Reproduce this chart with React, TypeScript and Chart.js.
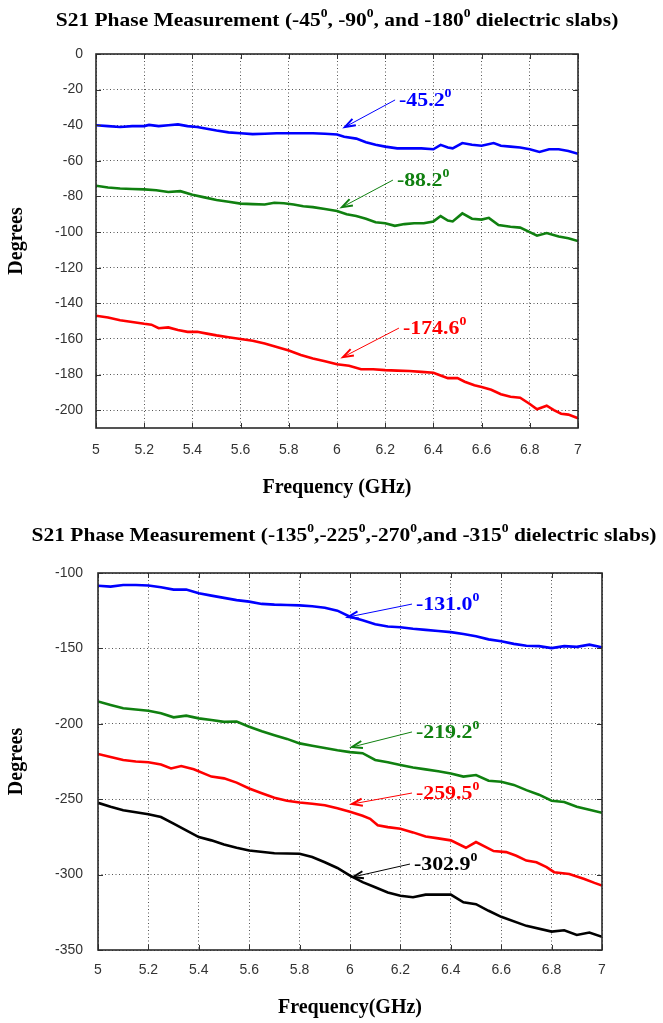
import React, { useEffect, useRef } from 'react';
import { Chart, registerables } from 'chart.js';

Chart.register(...registerables);

// ---------- Chart 1 data ----------
const c1BlueFreq = [5.00, 5.05, 5.10, 5.15, 5.20, 5.22, 5.26, 5.30, 5.34, 5.38, 5.42, 5.46, 5.50, 5.55, 5.60, 5.65, 5.70, 5.75, 5.80, 5.85, 5.90, 5.95, 6.00, 6.03, 6.08, 6.12, 6.16, 6.20, 6.25, 6.30, 6.35, 6.40, 6.43, 6.46, 6.48, 6.52, 6.56, 6.60, 6.65, 6.68, 6.72, 6.76, 6.80, 6.84, 6.88, 6.92, 6.96, 7.00];
const c1BlueVals = [-40.0, -40.5, -41.0, -40.5, -40.5, -39.8, -40.5, -40.0, -39.5, -40.5, -41.0, -42.0, -43.0, -44.0, -44.5, -45.0, -44.8, -44.5, -44.5, -44.5, -44.5, -44.8, -45.2, -46.5, -47.5, -49.5, -51.0, -52.0, -53.0, -53.0, -53.0, -53.5, -51.0, -52.5, -53.0, -50.0, -51.0, -51.5, -50.0, -51.5, -52.0, -52.5, -53.5, -55.0, -53.5, -53.5, -54.5, -56.0];

const c1GreenFreq = [5.00, 5.05, 5.10, 5.15, 5.20, 5.25, 5.30, 5.35, 5.40, 5.45, 5.50, 5.55, 5.60, 5.65, 5.70, 5.74, 5.78, 5.82, 5.86, 5.90, 5.95, 6.00, 6.04, 6.08, 6.12, 6.16, 6.20, 6.24, 6.28, 6.32, 6.36, 6.40, 6.43, 6.46, 6.48, 6.52, 6.56, 6.60, 6.63, 6.67, 6.72, 6.76, 6.80, 6.83, 6.87, 6.92, 6.96, 7.00];
const c1GreenVals = [-74.0, -75.0, -75.5, -75.8, -76.0, -76.5, -77.5, -77.0, -79.0, -80.5, -82.0, -83.0, -84.0, -84.3, -84.5, -83.5, -83.8, -84.5, -85.5, -86.0, -87.0, -88.2, -90.0, -91.0, -92.5, -94.5, -95.0, -96.5, -95.5, -95.0, -95.0, -94.0, -91.0, -93.5, -94.0, -89.5, -92.5, -93.0, -92.0, -96.0, -97.0, -97.5, -100.0, -102.0, -100.5, -102.5, -103.5, -105.0];

const c1RedFreq = [5.00, 5.05, 5.10, 5.15, 5.20, 5.23, 5.26, 5.30, 5.34, 5.38, 5.42, 5.46, 5.50, 5.55, 5.60, 5.65, 5.70, 5.75, 5.80, 5.85, 5.90, 5.95, 6.00, 6.05, 6.10, 6.15, 6.20, 6.25, 6.30, 6.35, 6.40, 6.43, 6.46, 6.50, 6.53, 6.57, 6.60, 6.64, 6.68, 6.72, 6.76, 6.80, 6.83, 6.87, 6.90, 6.93, 6.96, 7.00];
const c1RedVals = [-147.0, -148.0, -149.5, -150.5, -151.5, -152.0, -154.0, -153.5, -155.0, -156.0, -156.0, -157.0, -158.0, -159.0, -160.0, -161.0, -162.5, -164.5, -166.5, -169.0, -171.0, -172.5, -174.2, -175.0, -177.0, -177.0, -177.5, -177.8, -178.0, -178.5, -179.0, -180.5, -182.0, -182.0, -184.0, -186.0, -187.0, -188.5, -191.0, -192.5, -193.0, -196.5, -199.5, -197.5, -200.0, -202.0, -202.5, -204.5];

const c1YTicks = [0, -20, -40, -60, -80, -100, -120, -140, -160, -180, -200];
const c1YMin = -210;
const c1YMax = 0;

const c1AnnotLabels = ['-45.2', '-88.2', '-174.6'];
const c1AnnotTipX = [6.033, 6.021, 6.025];
const c1AnnotTipY = [-41.0, -86.0, -170.2];
const c1AnnotTailX = [6.241, 6.232, 6.257];
const c1AnnotTailY = [-25.8, -70.8, -153.9];

const c1Title = ['S21 Phase Measurement (-45', '0', ', -90', '0', ', and -180', '0', ' dielectric slabs)'];
const c1XTitle = 'Frequency (GHz)';

// ---------- Chart 2 data ----------
const c2BlueFreq = [5.00, 5.05, 5.10, 5.15, 5.20, 5.25, 5.30, 5.35, 5.40, 5.45, 5.50, 5.55, 5.60, 5.65, 5.70, 5.75, 5.80, 5.85, 5.90, 5.95, 6.00, 6.05, 6.10, 6.15, 6.20, 6.25, 6.30, 6.35, 6.40, 6.45, 6.50, 6.55, 6.60, 6.65, 6.70, 6.75, 6.80, 6.85, 6.90, 6.95, 7.00];
const c2BlueVals = [-108.5, -109.0, -108.0, -108.0, -108.3, -109.5, -111.0, -111.0, -113.5, -115.0, -116.5, -118.0, -119.0, -120.5, -121.0, -121.2, -121.5, -122.0, -123.0, -125.0, -129.0, -131.4, -134.0, -135.5, -136.0, -137.0, -137.7, -138.5, -139.2, -140.5, -142.0, -144.0, -145.3, -147.0, -148.2, -148.5, -149.8, -148.5, -149.0, -147.5, -149.3];

const c2GreenFreq = [5.00, 5.05, 5.10, 5.15, 5.20, 5.25, 5.30, 5.35, 5.40, 5.45, 5.50, 5.55, 5.60, 5.65, 5.70, 5.75, 5.80, 5.85, 5.90, 5.95, 6.00, 6.05, 6.10, 6.15, 6.20, 6.25, 6.30, 6.35, 6.40, 6.45, 6.50, 6.55, 6.60, 6.65, 6.70, 6.75, 6.80, 6.85, 6.90, 6.95, 7.00];
const c2GreenVals = [-185.2, -187.5, -189.7, -190.5, -191.3, -193.0, -195.7, -194.6, -196.4, -197.5, -198.7, -198.5, -202.0, -205.0, -207.6, -210.0, -213.0, -214.5, -216.0, -217.5, -218.8, -219.5, -224.0, -225.5, -227.3, -229.0, -230.2, -231.5, -232.9, -235.0, -234.0, -237.8, -238.4, -240.5, -244.0, -247.0, -251.0, -251.8, -255.0, -257.0, -259.0];

const c2RedFreq = [5.00, 5.05, 5.10, 5.15, 5.20, 5.25, 5.29, 5.33, 5.38, 5.45, 5.50, 5.55, 5.60, 5.65, 5.70, 5.75, 5.80, 5.85, 5.90, 5.95, 6.00, 6.05, 6.08, 6.11, 6.15, 6.20, 6.25, 6.30, 6.35, 6.40, 6.46, 6.50, 6.57, 6.62, 6.66, 6.70, 6.74, 6.78, 6.81, 6.87, 6.93, 6.97, 7.00];
const c2RedVals = [-220.0, -222.0, -224.0, -225.0, -225.5, -227.0, -229.6, -228.0, -230.2, -235.0, -236.2, -239.0, -242.9, -246.0, -249.0, -251.0, -252.2, -253.0, -254.0, -256.0, -258.4, -261.0, -263.0, -267.3, -268.5, -269.6, -272.0, -274.7, -276.0, -277.3, -282.2, -278.4, -284.4, -285.1, -287.5, -290.7, -291.8, -295.0, -298.4, -299.6, -302.9, -305.5, -307.3];

const c2BlackFreq = [5.00, 5.05, 5.10, 5.20, 5.25, 5.30, 5.35, 5.40, 5.45, 5.50, 5.55, 5.60, 5.70, 5.80, 5.85, 5.90, 5.95, 6.00, 6.05, 6.10, 6.15, 6.20, 6.25, 6.30, 6.40, 6.45, 6.50, 6.55, 6.60, 6.70, 6.80, 6.85, 6.90, 6.95, 7.00];
const c2BlackVals = [-252.4, -255.0, -257.3, -260.0, -261.8, -266.2, -270.7, -275.1, -277.3, -280.0, -282.2, -284.0, -285.8, -286.2, -288.4, -291.8, -295.6, -300.7, -305.0, -308.4, -311.8, -314.0, -315.0, -313.3, -313.3, -318.4, -319.6, -324.0, -328.0, -334.0, -337.8, -336.9, -340.0, -338.4, -341.3];

const c2YTicks = [-100, -150, -200, -250, -300, -350];
const c2YMin = -350;
const c2YMax = -100;

const c2AnnotLabels = ['-131.0', '-219.2', '-259.5', '-302.9'];
const c2AnnotTipX = [5.992, 6.008, 6.008, 6.012];
const c2AnnotTipY = [-129.2, -215.4, -253.2, -301.6];
const c2AnnotTailX = [6.246, 6.246, 6.246, 6.238];
const c2AnnotTailY = [-120.6, -205.4, -245.9, -293.0];

const c2Title = ['S21 Phase Measurement (-135', '0', ',-225', '0', ',-270', '0', ',and -315', '0', ' dielectric slabs)'];
const c2XTitle = 'Frequency(GHz)';

// ---------- shared ----------
const xTicks = [5, 5.2, 5.4, 5.6, 5.8, 6, 6.2, 6.4, 6.6, 6.8, 7];
const xTickLabels = ['5', '5.2', '5.4', '5.6', '5.8', '6', '6.2', '6.4', '6.6', '6.8', '7'];
const yTitle = 'Degrees';

const BLUE = '#0000ff';
const GREEN = '#108010';
const RED = '#ff0000';
const BLACK = '#000000';
const SERIF = '"Liberation Serif", "Times New Roman", serif';
const SANS = '"Liberation Sans", Arial, sans-serif';

function drawRich(ctx: CanvasRenderingContext2D, parts: string[], x: number, baseline: number, size: number, stretch: number, align: string, color: string) {
  const mainFont = `bold ${size}px ${SERIF}`;
  const supFont = `bold ${Math.round(size * 0.65)}px ${SERIF}`;
  const widths = parts.map((p, i) => {
    ctx.font = i % 2 ? supFont : mainFont;
    return ctx.measureText(p).width;
  });
  const total = widths.reduce((a, b) => a + b, 0);
  ctx.save();
  ctx.translate(x, baseline);
  ctx.scale(stretch, 1);
  ctx.fillStyle = color;
  ctx.textBaseline = 'alphabetic';
  ctx.textAlign = 'left';
  let cx = align === 'center' ? -total / 2 : 0;
  parts.forEach((p, i) => {
    ctx.font = i % 2 ? supFont : mainFont;
    ctx.fillText(p, cx, i % 2 ? -size * 0.47 : 0);
    cx += widths[i];
  });
  ctx.restore();
}

const decorPlugin = {
  id: 'decor',
  afterDatasetsDraw(chart: any, _args: any, opts: any) {
    const { ctx, chartArea: a, scales } = chart;
    const xs = scales.x;
    const ys = scales.y;
    ctx.save();
    // inward tick marks
    ctx.strokeStyle = '#333';
    ctx.lineWidth = 1;
    ctx.setLineDash([]);
    ctx.beginPath();
    xTicks.forEach((v) => {
      const px = Math.round(xs.getPixelForValue(v)) + 0.5;
      ctx.moveTo(px, a.bottom);
      ctx.lineTo(px, a.bottom - 5);
      ctx.moveTo(px, a.top);
      ctx.lineTo(px, a.top + 5);
    });
    (opts.yTicks as number[]).forEach((v) => {
      const py = Math.round(ys.getPixelForValue(v)) + 0.5;
      ctx.moveTo(a.left, py);
      ctx.lineTo(a.left + 5, py);
      ctx.moveTo(a.right, py);
      ctx.lineTo(a.right - 5, py);
    });
    ctx.stroke();
    // frame
    ctx.strokeStyle = '#2a2a2a';
    ctx.lineWidth = 1.6;
    ctx.strokeRect(a.left, a.top, a.right - a.left, a.bottom - a.top);

    // annotations
    const labels: string[] = opts.labels;
    labels.forEach((lab, i) => {
      const color = opts.colors[i];
      const tx = xs.getPixelForValue(opts.tipX[i]);
      const ty = ys.getPixelForValue(opts.tipY[i]);
      const sx = xs.getPixelForValue(opts.tailX[i]);
      const sy = ys.getPixelForValue(opts.tailY[i]);
      ctx.strokeStyle = color;
      ctx.fillStyle = color;
      ctx.lineWidth = 1;
      ctx.beginPath();
      ctx.moveTo(sx, sy);
      ctx.lineTo(tx, ty);
      ctx.stroke();
      const ang = Math.atan2(ty - sy, tx - sx);
      const len = 11;
      const spread = 0.33;
      ctx.lineWidth = 2;
      ctx.beginPath();
      ctx.moveTo(tx - len * Math.cos(ang - spread), ty - len * Math.sin(ang - spread));
      ctx.lineTo(tx, ty);
      ctx.lineTo(tx - len * Math.cos(ang + spread), ty - len * Math.sin(ang + spread));
      ctx.stroke();
      drawRich(ctx, [lab, '0'], sx + 4, sy + 6, 19, 1.15, 'left', color);
    });

    // main title
    drawRich(ctx, opts.title, opts.titleX, opts.titleBaseline, 19, 1.13, 'center', '#000');
    ctx.restore();
  },
};

function makeDataset(freq: number[], vals: number[], color: string) {
  return {
    data: freq.map((f, i) => ({ x: f, y: vals[i] })),
    borderColor: color,
    backgroundColor: color,
    borderWidth: 2.6,
    pointRadius: 0,
    tension: 0,
    fill: false,
  };
}

function makeConfig(p: any) {
  return {
    type: 'line',
    data: { datasets: p.datasets },
    plugins: [decorPlugin],
    options: {
      animation: false,
      responsive: false,
      maintainAspectRatio: false,
      devicePixelRatio: 1,
      layout: { padding: p.padding },
      plugins: {
        legend: { display: false },
        tooltip: { enabled: false },
        title: { display: false },
        decor: p.decor,
      },
      scales: {
        x: {
          type: 'linear',
          min: 5,
          max: 7,
          afterBuildTicks: (s: any) => {
            s.ticks = xTicks.map((v) => ({ value: v }));
          },
          afterFit: (s: any) => {
            s.height = p.xAxisHeight;
          },
          ticks: {
            callback: (_v: any, i: number) => xTickLabels[i],
            font: { family: SANS, size: 14 },
            color: '#333',
            padding: p.xTickPad,
            maxRotation: 0,
            autoSkip: false,
          },
          grid: { color: '#555', lineWidth: 1, drawTicks: false },
          border: { display: false, dash: [1, 2.5] },
          title: {
            display: true,
            text: p.xTitle,
            font: { family: SERIF, size: 20, weight: 'bold' },
            color: '#000',
            padding: { top: 0, bottom: p.xTitlePad },
          },
        },
        y: {
          type: 'linear',
          min: p.yMin,
          max: p.yMax,
          afterBuildTicks: (s: any) => {
            s.ticks = p.yTicks.map((v: number) => ({ value: v }));
          },
          afterFit: (s: any) => {
            s.width = p.yAxisWidth;
          },
          ticks: {
            callback: (v: any) => String(v),
            font: { family: SANS, size: 14 },
            color: '#333',
            padding: p.yTickPad,
            autoSkip: false,
          },
          grid: { color: '#555', lineWidth: 1, drawTicks: false },
          border: { display: false, dash: [1, 2.5] },
          title: {
            display: true,
            text: yTitle,
            font: { family: SERIF, size: 20, weight: 'bold' },
            color: '#000',
            padding: { top: 5, bottom: 0 },
          },
        },
      },
    },
  };
}

function PhaseChart(props: { config: any; width: number; height: number; top: number }) {
  const ref = useRef<HTMLCanvasElement | null>(null);
  useEffect(() => {
    if (!ref.current) return;
    const chart = new Chart(ref.current, props.config);
    return () => chart.destroy();
  }, []);
  return (
    <canvas
      ref={ref}
      width={props.width}
      height={props.height}
      style={{ position: 'absolute', left: 0, top: props.top, width: props.width, height: props.height, display: 'block' }}
    />
  );
}

export default function App() {
  const config1 = makeConfig({
    datasets: [
      makeDataset(c1BlueFreq, c1BlueVals, BLUE),
      makeDataset(c1GreenFreq, c1GreenVals, GREEN),
      makeDataset(c1RedFreq, c1RedVals, RED),
    ],
    padding: { left: 0, top: 54, right: 85, bottom: 0 },
    xAxisHeight: 82,
    xTickPad: 13.6,
    xTitlePad: 10,
    xTitle: c1XTitle,
    yAxisWidth: 96,
    yTickPad: 13,
    yMin: c1YMin,
    yMax: c1YMax,
    yTicks: c1YTicks,
    decor: {
      yTicks: c1YTicks,
      labels: c1AnnotLabels,
      colors: [BLUE, GREEN, RED],
      tipX: c1AnnotTipX,
      tipY: c1AnnotTipY,
      tailX: c1AnnotTailX,
      tailY: c1AnnotTailY,
      title: c1Title,
      titleX: 337,
      titleBaseline: 26,
    },
  });
  const config2 = makeConfig({
    datasets: [
      makeDataset(c2BlueFreq, c2BlueVals, BLUE),
      makeDataset(c2GreenFreq, c2GreenVals, GREEN),
      makeDataset(c2RedFreq, c2RedVals, RED),
      makeDataset(c2BlackFreq, c2BlackVals, BLACK),
    ],
    padding: { left: 0, top: 63, right: 61, bottom: 0 },
    xAxisHeight: 73,
    xTickPad: 11.6,
    xTitlePad: 3,
    xTitle: c2XTitle,
    yAxisWidth: 98,
    yTickPad: 15,
    yMin: c2YMin,
    yMax: c2YMax,
    yTicks: c2YTicks,
    decor: {
      yTicks: c2YTicks,
      labels: c2AnnotLabels,
      colors: [BLUE, GREEN, RED, BLACK],
      tipX: c2AnnotTipX,
      tipY: c2AnnotTipY,
      tailX: c2AnnotTailX,
      tailY: c2AnnotTailY,
      title: c2Title,
      titleX: 344,
      titleBaseline: 31,
    },
  });
  return (
    <div style={{ position: 'absolute', left: 0, top: 0, width: 663, height: 1023, background: '#fff' }}>
      <PhaseChart config={config1} width={663} height={510} top={0} />
      <PhaseChart config={config2} width={663} height={513} top={510} />
    </div>
  );
}
